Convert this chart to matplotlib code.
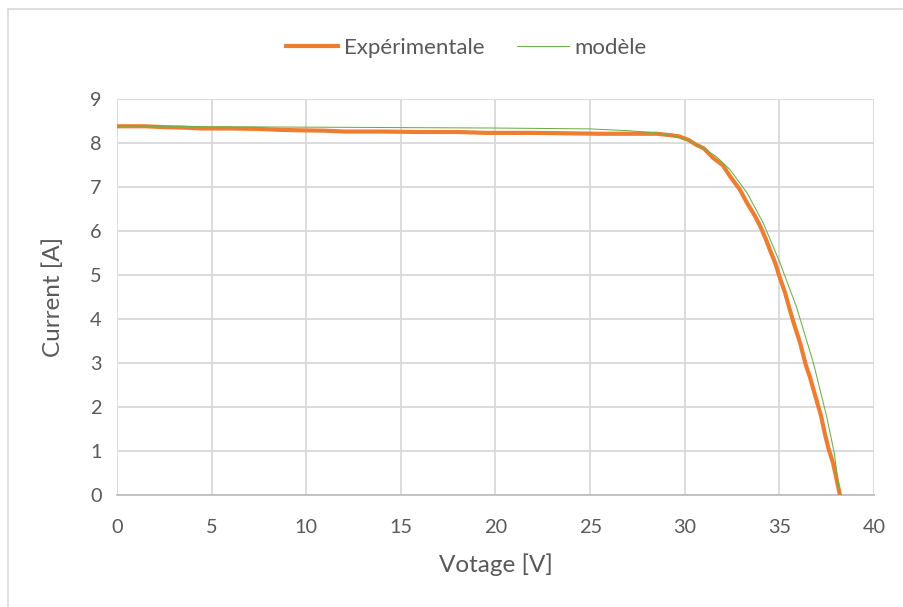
import matplotlib
matplotlib.use('Agg')
import matplotlib.pyplot as plt
from matplotlib.lines import Line2D

# Données
v_exp = [0, 1.5, 2.5, 3.5, 4.5, 6, 7.5, 8.5, 9.5, 11, 12, 14, 16, 18, 19.5, 22, 24, 25.5, 27, 28.5,
         29.2, 29.7, 30.2, 30.6, 31.0, 31.5, 32.0, 32.4, 32.9, 33.3, 33.7, 34.0, 34.3, 34.5, 34.8,
         35.0, 35.3, 35.55, 35.8, 36.1, 36.4, 36.6, 36.96, 37.2, 37.4, 37.6, 37.84, 38.0, 38.2]
i_exp = [8.38, 8.38, 8.36, 8.35, 8.33, 8.33, 8.32, 8.30, 8.29, 8.28, 8.26, 8.26, 8.25, 8.25, 8.23, 8.23, 8.22, 8.21, 8.21, 8.21,
         8.18, 8.15, 8.07, 7.96, 7.88, 7.66, 7.50, 7.24, 6.95, 6.63, 6.35, 6.10, 5.80, 5.57, 5.25,
         4.97, 4.60, 4.21, 3.85, 3.45, 2.95, 2.70, 2.16, 1.80, 1.40, 1.05, 0.72, 0.40, 0.0]

v_mod = [0, 5, 10, 15, 20, 25, 27, 28.5, 29.5, 30.3, 31.0, 31.7, 32.4, 33.3, 34.15, 35.0, 35.9, 36.8, 37.5, 37.9, 38.2]
i_mod = [8.39, 8.37, 8.36, 8.35, 8.34, 8.32, 8.28, 8.23, 8.15, 8.04, 7.88, 7.68, 7.39, 6.86, 6.18, 5.31, 4.28, 3.0, 1.78, 0.95, 0.0]

x_ticks = list(range(0, 45, 5))
y_ticks = list(range(0, 10))

orange = '#ED7D31'
green = '#70AD47'
grey_txt = '#595959'

plt.rcParams['font.family'] = ['Lato', 'DejaVu Sans']

fig = plt.figure(figsize=(9.04, 6.07), dpi=100)
ax = fig.add_axes([117 / 904, 1 - 495 / 607, (874 - 117) / 904, (495 - 99) / 607])

ax.plot(v_exp, i_exp, color=orange, lw=3, solid_capstyle='round', zorder=3)
ax.plot(v_mod, i_mod, color=green, lw=0.75, zorder=4)

ax.set_xlim(0, 40)
ax.set_ylim(0, 9)
ax.set_xticks(x_ticks)
ax.set_yticks(y_ticks)
ax.grid(True, color='#d9d9d9', lw=1.3)
ax.set_axisbelow(True)
for s in ['top', 'right', 'left']:
    ax.spines[s].set_visible(False)
ax.spines['bottom'].set_color('#bfbfbf')
ax.spines['bottom'].set_linewidth(1.3)
ax.tick_params(length=0, labelsize=14.3, labelcolor=grey_txt)
ax.tick_params(axis='x', pad=17)
ax.tick_params(axis='y', pad=11)

ax.set_xlabel('Votage [V]', fontsize=17.5, color=grey_txt)
ax.set_ylabel('Current [A]', fontsize=17.5, color=grey_txt)
ax.xaxis.set_label_coords(0.5, (495 - 565) / 396)
ax.xaxis.label.set_va('center')
ax.yaxis.set_label_coords((53 - 117) / 757, 0.5)
ax.yaxis.label.set_va('center')

handles = [Line2D([], [], color=orange, lw=3), Line2D([], [], color=green, lw=0.75)]
fig.legend(handles, ['Expérimentale', 'modèle'], loc='center', bbox_to_anchor=(466.5 / 904, 1 - 48 / 607),
           ncol=2, frameon=False, fontsize=16, labelcolor=grey_txt, handlelength=2.35,
           columnspacing=1.45, handletextpad=0.25, borderpad=0, borderaxespad=0)

# bordure de la zone du graphique
fig.add_artist(Line2D([8 / 904, 8 / 904], [0, 1 - 9 / 607], color='#d9d9d9', lw=1.2, transform=fig.transFigure))
fig.add_artist(Line2D([8 / 904, 1], [1 - 9 / 607, 1 - 9 / 607], color='#d9d9d9', lw=1.2, transform=fig.transFigure))

fig.savefig('out.png', dpi=100)
